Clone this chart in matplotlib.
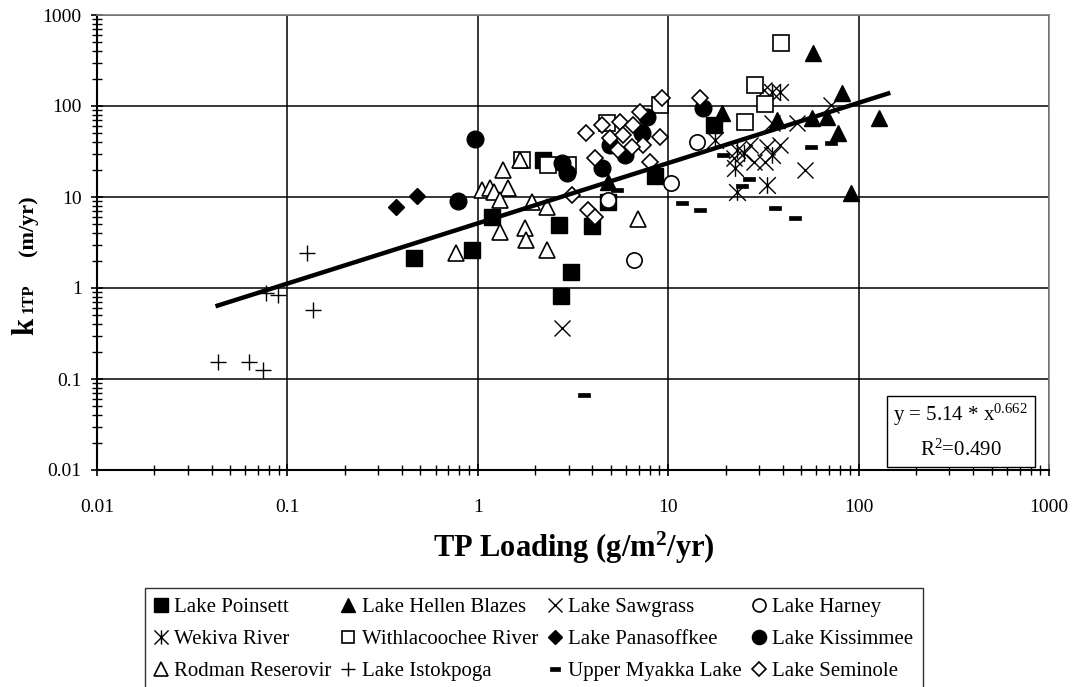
import numpy as np
import matplotlib
matplotlib.use('Agg')
import matplotlib.pyplot as plt
from matplotlib.path import Path
from matplotlib.patches import Rectangle

plt.rcParams['font.family'] = ['Liberation Serif', 'DejaVu Serif']
plt.rcParams['mathtext.fontset'] = 'custom'
plt.rcParams['mathtext.rm'] = 'Liberation Serif'
plt.rcParams['mathtext.it'] = 'Liberation Serif:italic'
plt.rcParams['mathtext.bf'] = 'Liberation Serif:bold'

# TP loading (g/m2/yr) and k1TP (m/yr)
poinsett_x = [0.46, 0.93, 1.19, 2.21, 2.68, 3.96, 3.08, 2.73, 8.55, 17.3, 4.82]
poinsett_y = [2.15, 2.6, 6.1, 25.5, 4.9, 4.8, 1.51, 0.82, 17.1, 61.8, 8.8]

hellen_x = [57.8, 82, 37.3, 57, 68.4, 77.8, 128, 91.6, 19.2, 4.85]
hellen_y = [379, 138, 70.2, 73.3, 76.3, 50.1, 73.3, 11.0, 83, 14.7]

sawgrass_x = [2.78, 31.7, 71.2, 47.5, 35.2, 33.0, 27.0, 22.1, 28.1, 32.4, 52.6, 38.8]
sawgrass_y = [0.36, 150, 102.6, 64.5, 64.5, 35.7, 37.3, 26.6, 24.4, 24.4, 19.8, 37.3]

harney_x = [4.82, 6.65, 10.4, 14.2]
harney_y = [9.3, 2.03, 14.1, 40.5]

wekiva_x = [35.2, 38.8, 35.2, 23.0, 24.9, 22.5, 33.0, 23.0, 17.7]
wekiva_y = [143.6, 143.6, 28.9, 32.8, 30.2, 20.7, 13.5, 11.4, 42.3]

withla_x = [1.70, 2.35, 2.98, 4.75, 9.08, 39.2, 28.7, 32.1, 25.2]
withla_y = [25.5, 22.5, 22.5, 64.5, 102.6, 496, 170, 104.5, 67.2]

panasoffkee_x = [0.37, 0.48]
panasoffkee_y = [7.77, 10.3]

kissimmee_x = [0.97, 0.79, 2.76, 2.93, 4.48, 7.73, 7.27, 5.94, 4.95, 15.3]
kissimmee_y = [43.4, 9.1, 23.4, 18.2, 20.7, 76.3, 50.1, 28.9, 37.3, 94.3]

rodman_x = [1.66, 1.36, 1.05, 1.16, 1.21, 1.44, 1.31, 1.92, 2.30, 1.31, 1.77, 1.79, 2.30, 0.77, 6.98]
rodman_y = [25.5, 19.8, 11.9, 12.5, 11.4, 12.5, 9.3, 8.9, 7.8, 4.16, 4.53, 3.37, 2.62, 2.4, 5.69]

istokpoga_x = [0.127, 0.077, 0.089, 0.136, 0.0434, 0.0629, 0.0741]
istokpoga_y = [2.43, 0.89, 0.83, 0.57, 0.154, 0.154, 0.126]

myakka_x = [3.62, 5.37, 11.8, 14.7, 19.5, 26.5, 24.4, 36.6, 55.9, 71.2, 46.6]
myakka_y = [0.0667, 11.9, 8.5, 7.2, 28.9, 15.7, 13.2, 7.5, 35.7, 39.5, 5.83]

seminole_x = [9.27, 7.13, 4.48, 3.70, 5.58, 6.56, 4.95, 5.82, 9.08, 7.41, 5.47, 6.43, 4.13, 7.98, 3.13, 3.81, 4.13, 14.7]
seminole_y = [121.6, 86.6, 61.8, 50.1, 67.2, 61.8, 44.2, 48.0, 46.0, 37.3, 32.8, 35.7, 26.6, 24.1, 10.5, 7.2, 6.08, 121.6]

# power trendline y = a * x^b
fit_a = 5.14
fit_b = 0.662
fit_r2 = 0.490
fit_xmin, fit_xmax = 0.043, 143

ticks = [0.01, 0.1, 1, 10, 100, 1000]
tick_labels = ['0.01', '0.1', '1', '10', '100', '1000']

# custom markers: asterisk (X with vertical bar) and short bar
asterisk = Path([(-1, -1), (1, 1), (-1, 1), (1, -1), (0, -1), (0, 1)],
                [Path.MOVETO, Path.LINETO, Path.MOVETO, Path.LINETO, Path.MOVETO, Path.LINETO])
bar = Path([(-1, -0.35), (1, -0.35), (1, 0.35), (-1, 0.35), (-1, -0.35)],
           [Path.MOVETO, Path.LINETO, Path.LINETO, Path.LINETO, Path.CLOSEPOLY])

fig = plt.figure(figsize=(10.77, 6.87), dpi=100)
ax = fig.add_axes([97 / 1077, 1 - 470 / 687, 952 / 1077, 455 / 687])

series = [
    ('Lake Poinsett', poinsett_x, poinsett_y, dict(marker='s', ms=12, mfc='black', mec='black')),
    ('Lake Hellen Blazes', hellen_x, hellen_y, dict(marker='^', ms=12, mfc='black', mec='black')),
    ('Lake Sawgrass', sawgrass_x, sawgrass_y, dict(marker='x', ms=12, mec='black', mew=1)),
    ('Lake Harney', harney_x, harney_y, dict(marker='o', ms=11, mfc='white', mec='black', mew=1.2)),
    ('Wekiva River', wekiva_x, wekiva_y, dict(marker=asterisk, ms=12, mfc='none', mec='black', mew=1)),
    ('Withlacoochee River', withla_x, withla_y, dict(marker='s', ms=11, mfc='white', mec='black', mew=1.2)),
    ('Lake Panasoffkee', panasoffkee_x, panasoffkee_y, dict(marker='D', ms=8, mfc='black', mec='black')),
    ('Lake Kissimmee', kissimmee_x, kissimmee_y, dict(marker='o', ms=12, mfc='black', mec='black')),
    ('Rodman Reserovir', rodman_x, rodman_y, dict(marker='^', ms=12, mfc='white', mec='black', mew=1.2)),
    ('Lake Istokpoga', istokpoga_x, istokpoga_y, dict(marker='+', ms=12, mec='black', mew=1)),
    ('Upper Myakka Lake', myakka_x, myakka_y, dict(marker=bar, ms=8, mfc='black', mec='black', mew=0.5)),
    ('Lake Seminole', seminole_x, seminole_y, dict(marker='D', ms=8, mfc='white', mec='black', mew=1.2)),
]

handles = {}
for name, xs, ys, style in series:
    h, = ax.plot(xs, ys, linestyle='none', label=name, zorder=3, **style)
    handles[name] = h

fit_x = np.geomspace(fit_xmin, fit_xmax, 100)
ax.plot(fit_x, fit_a * fit_x ** fit_b, color='black', lw=3.2, zorder=4)

ax.set_xscale('log')
ax.set_yscale('log')
ax.set_xlim(0.01, 1000)
ax.set_ylim(0.01, 1000)
ax.set_xticks(ticks, tick_labels)
ax.set_yticks(ticks, tick_labels)
ax.grid(True, which='major', color='black', lw=1.1)
ax.set_axisbelow(True)

ax.tick_params(which='major', direction='inout', length=8, width=1.2, labelsize=14)
ax.tick_params(which='minor', direction='inout', length=7, width=1)
ax.tick_params(axis='x', which='major', pad=17)
ax.tick_params(axis='y', which='major', pad=7)
for s in ['left', 'bottom']:
    ax.spines[s].set_linewidth(1.5)
for s in ['top', 'right']:
    ax.spines[s].set_color('#808080')
    ax.spines[s].set_linewidth(1.2)

# equation box
ax.add_patch(Rectangle((0.830, 0.007), 0.155, 0.156, transform=ax.transAxes,
                       facecolor='white', edgecolor='black', lw=1, zorder=5))
ax.text(0.907, 0.122, 'y = %.2f * x$^{%.3f}$' % (fit_a, fit_b), transform=ax.transAxes,
        ha='center', va='center', fontsize=15, zorder=6)
ax.text(0.907, 0.044, 'R$^{2}$=%.3f' % fit_r2, transform=ax.transAxes,
        ha='center', va='center', fontsize=15, zorder=6)

# axis titles
fig.text(574 / 1077, 1 - 548 / 687, 'TP Loading (g/m$^{\\mathbf{2}}$/yr)', ha='center', va='center',
         fontsize=22, fontweight='bold')
for txt, ypx, size in [('k', 326, 22), ('1TP', 298, 12), ('(m/yr)', 226, 16)]:
    fig.text(33 / 1077, 1 - ypx / 687, txt, rotation=90, rotation_mode='anchor',
             ha='center', va='baseline', fontsize=size, fontweight='bold')

# legend, filled row by row like the original
order = ['Lake Poinsett', 'Wekiva River', 'Rodman Reserovir',
         'Lake Hellen Blazes', 'Withlacoochee River', 'Lake Istokpoga',
         'Lake Sawgrass', 'Lake Panasoffkee', 'Upper Myakka Lake',
         'Lake Harney', 'Lake Kissimmee', 'Lake Seminole']
leg = fig.legend([handles[n] for n in order], order, ncol=4, loc='upper left',
                 bbox_to_anchor=(145 / 1077, 1 - 588 / 687), borderaxespad=0,
                 fontsize=15, markerscale=0.85, frameon=True, fancybox=False,
                 edgecolor='black', handlelength=0.6, handletextpad=0.35,
                 columnspacing=0.5, labelspacing=0.6, borderpad=0.45)
leg.get_frame().set_linewidth(1)

fig.savefig('out.png', dpi=100)
